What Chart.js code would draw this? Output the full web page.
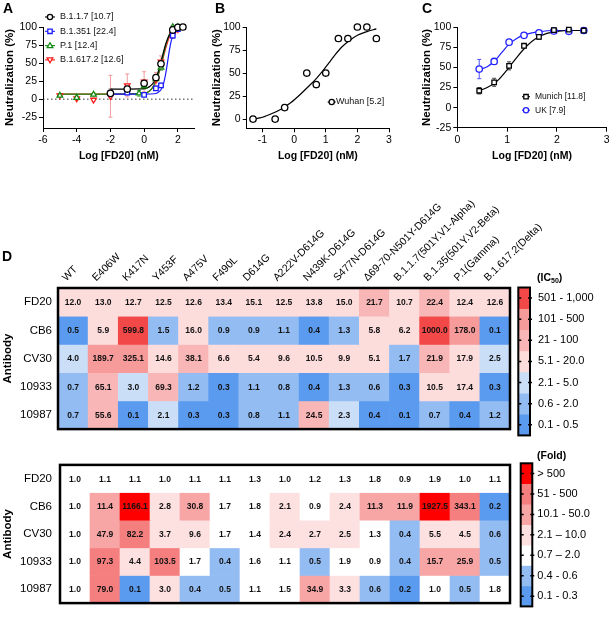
<!DOCTYPE html>
<html><head><meta charset="utf-8">
<script src="https://cdn.jsdelivr.net/npm/chart.js@4.4.0/dist/chart.umd.min.js"></script>
<style>
body{margin:0;background:#fff;}
#wrap{position:relative;width:612px;height:618px;overflow:hidden;background:#fff;font-family:"Liberation Sans",Arial,sans-serif;}
canvas{position:absolute;}
.lbl{position:absolute;font-weight:bold;color:#000;line-height:1;white-space:nowrap;}
.lbl sub{font-size:7px;vertical-align:-2px;}
</style></head><body>
<div id="wrap">
<canvas id="cA" width="200" height="162" style="left:0;top:0"></canvas>
<canvas id="cB" width="200" height="162" style="left:200px;top:0"></canvas>
<canvas id="cC" width="212" height="162" style="left:400px;top:0"></canvas>
<canvas id="cH1" width="612" height="292" style="left:0;top:150px"></canvas>
<canvas id="cH2" width="612" height="168" style="left:0;top:450px"></canvas>
<canvas id="cL1" width="102" height="180" style="left:510px;top:270px"></canvas>
<canvas id="cL2" width="102" height="168" style="left:510px;top:450px"></canvas>
<div class="lbl" style="left:3px;top:1px;font-size:14px">A</div>
<div class="lbl" style="left:215px;top:1px;font-size:14px">B</div>
<div class="lbl" style="left:422px;top:1px;font-size:14px">C</div>
<div class="lbl" style="left:2px;top:249px;font-size:14px">D</div>
<div class="lbl" style="left:537px;top:272px;font-size:10.5px">(IC<sub>50</sub>)</div>
<div class="lbl" style="left:537px;top:450px;font-size:10.5px">(Fold)</div>
</div>
<script>
// ---------------- Panel A data ----------------
const A_xTicks = [-6, -4, -2, 0, 2];
const A_yTicks = [-25, 0, 25, 50, 75, 100];
const a1_name = 'B.1.1.7 [10.7]';
const a1_x = [-2, -1, 0, 0.7, 1, 1.7, 2, 2.3];
const a1_y = [8, 14, 22, 30, 49, 96, 99.5, 100];
const a1_err = [6, 4, 4, 3, 4, 3, 1.5, 1];
const a1_fitX = [-2, -1, 0, 0.3, 0.5, 0.7, 0.9, 1.1, 1.3, 1.5, 1.7, 1.9, 2.3];
const a1_fitY = [14, 14, 14.5, 17, 21, 29, 43, 61, 78, 89, 95, 98.5, 100];
const a2_name = 'B.1.351 [22.4]';
const a2_x = [-2, -1, 0, 0.7, 1, 1.7, 2, 2.3];
const a2_y = [8, 9, 6, 15, 19, 88, 97, 100];
const a2_err = [3, 3, 2, 3, 3, 4, 2, 1];
const a2_fitX = [-2, 0, 0.6, 0.8, 1.0, 1.1, 1.2, 1.3, 1.4, 1.5, 1.6, 1.7, 1.8, 2.0, 2.3];
const a2_fitY = [7, 7, 7.5, 9, 13, 18, 26, 38, 53, 68, 80, 88, 93, 98, 100];
const a3_name = 'P.1 [12.4]';
const a3_x = [-5, -4, -3, -0.3, 0, 0.7, 1, 1.7, 2];
const a3_y = [5, 2, 6.5, 8, 18, 28, 44, 100, 100];
const a3_err = [2, 2, 2, 4, 4, 4, 4, 2, 1];
const a3_fitX = [-5, -2, 0, 0.3, 0.5, 0.7, 0.9, 1.1, 1.3, 1.5, 1.7, 2.0];
const a3_fitY = [7, 7, 8, 11, 16, 25, 39, 57, 76, 90, 97, 100];
const a4_name = 'B.1.617.2 [12.6]';
const a4_x = [-5, -4, -3, -2, -1, 0, 0.7, 1, 1.7, 2];
const a4_y = [5, 1, -1, 4, 19, 24, 27, 52, 90, 97];
const a4_err = [2, 2, 2, 29, 16, 14, 10, 8, 5, 2];
const a4_fitX = [-5, -2, 0, 0.3, 0.5, 0.7, 0.9, 1.1, 1.3, 1.5, 1.7, 1.9, 2.0];
const a4_fitY = [7, 7, 8, 11, 16, 25, 38, 55, 72, 86, 94, 98, 99];

// ---------------- Panel B data ----------------
const B_xTicks = [-1, 0, 1, 2, 3];
const B_yTicks = [0, 25, 50, 75, 100];
const b_name = 'Wuhan [5.2]';
const b_x = [-1.3, -0.6, -0.3, 0.4, 0.7, 1.0, 1.4, 1.7, 2.0, 2.3, 2.6];
const b_y = [0, 0, 12.5, 50, 37.5, 50, 87.5, 87.5, 100, 100, 87.5];
const b_fitX = [-1.3, -1.0, -0.7, -0.4, -0.1, 0.2, 0.5, 0.7, 0.9, 1.1, 1.3, 1.5, 1.7, 2.0, 2.3, 2.6];
const b_fitY = [0, 2, 6, 11, 18, 27, 37, 44, 52, 61, 70, 78, 84, 91, 95, 98];

// ---------------- Panel C data ----------------
const C_xTicks = [0, 1, 2, 3];
const C_yTicks = [-25, 0, 25, 50, 75, 100];
const c_x = [0.44, 0.74, 1.04, 1.34, 1.64, 1.94, 2.24, 2.54];
const c1_name = 'Munich [11.8]';
const c1_y = [21, 31.5, 52, 77, 88, 96.5, 97, 96];
const c1_err = [4, 5, 5, 2, 3, 1.5, 1.5, 1.5];
const c1_fitX = [0.44, 0.6, 0.8, 1.0, 1.2, 1.4, 1.6, 1.8, 2.0, 2.3, 2.54];
const c1_fitY = [21, 25, 33, 47, 63, 77, 87, 92.5, 95, 96, 96];
const c2_name = 'UK [7.9]';
const c2_y = [48, 57.5, 81.5, 90, 93, 95.5, 95, 96];
const c2_err = [12, 3, 1.5, 1.5, 1.5, 1, 1, 1.5];
const c2_fitX = [0.44, 0.6, 0.75, 0.9, 1.04, 1.2, 1.34, 1.5, 1.64, 1.94, 2.54];
const c2_fitY = [47, 51, 58, 69, 79, 86.5, 90.5, 93, 94.5, 96, 96];

// ---------------- Panel D data ----------------
const variants = ['WT', 'E406W', 'K417N', 'Y453F', 'A475V', 'F490L', 'D614G', 'A222V-D614G', 'N439K-D614G', 'S477N-D614G', 'Δ69-70-N501Y-D614G', 'B.1.1.7(501Y.V1-Alpha)', 'B.1.35(501Y.V2-Beta)', 'P.1(Gamma)', 'B.1.617.2(Delta)'];
const antibodies = ['FD20', 'CB6', 'CV30', '10933', '10987'];
const ic50_FD20 = [12.0, 13.0, 12.7, 12.5, 12.6, 13.4, 15.1, 12.5, 13.8, 15.0, 21.7, 10.7, 22.4, 12.4, 12.6];
const ic50_CB6 = [0.5, 5.9, 599.8, 1.5, 16.0, 0.9, 0.9, 1.1, 0.4, 1.3, 5.8, 6.2, 1000.0, 178.0, 0.1];
const ic50_CV30 = [4.0, 189.7, 325.1, 14.6, 38.1, 6.6, 5.4, 9.6, 10.5, 9.9, 5.1, 1.7, 21.9, 17.9, 2.5];
const ic50_10933 = [0.7, 65.1, 3.0, 69.3, 1.2, 0.3, 1.1, 0.8, 0.4, 1.3, 0.6, 0.3, 10.5, 17.4, 0.3];
const ic50_10987 = [0.7, 55.6, 0.1, 2.1, 0.3, 0.3, 0.8, 1.1, 24.5, 2.3, 0.4, 0.1, 0.7, 0.4, 1.2];
const fold_FD20 = [1.0, 1.1, 1.1, 1.0, 1.1, 1.1, 1.3, 1.0, 1.2, 1.3, 1.8, 0.9, 1.9, 1.0, 1.1];
const fold_CB6 = [1.0, 11.4, 1166.1, 2.8, 30.8, 1.7, 1.8, 2.1, 0.9, 2.4, 11.3, 11.9, 1927.5, 343.1, 0.2];
const fold_CV30 = [1.0, 47.9, 82.2, 3.7, 9.6, 1.7, 1.4, 2.4, 2.7, 2.5, 1.3, 0.4, 5.5, 4.5, 0.6];
const fold_10933 = [1.0, 97.3, 4.4, 103.5, 1.7, 0.4, 1.6, 1.1, 0.5, 1.9, 0.9, 0.4, 15.7, 25.9, 0.5];
const fold_10987 = [1.0, 79.0, 0.1, 3.0, 0.4, 0.5, 1.1, 1.5, 34.9, 3.3, 0.6, 0.2, 1.0, 0.5, 1.8];
const ic50Bins = ['501 - 1,000', '101 - 500', '21 - 100', '5.1 - 20.0', '2.1 - 5.0', '0.6 - 2.0', '0.1 - 0.5'];
const foldBins = ['> 500', '51 - 500', '10.1 - 50.0', '2.1 – 10.0', '0.7 – 2.0', '0.4 - 0.6', '0.1 - 0.3'];
const ic50Lower = [500.5, 100.5, 20.5, 5.05, 2.05, 0.55, 0];
const foldLower = [500.5, 50.5, 10.05, 2.05, 0.65, 0.35, 0];

// ---------------- styles ----------------
const ic50Colors = ['#f24848', '#f69a9a', '#f9b6b6', '#fddcdc', '#cadef8', '#93bcf3', '#5b9bef'];
const foldColors = ['#ff0000', '#f57f7f', '#f8a5a5', '#fde0e0', '#ffffff', '#93bcf3', '#5b9bef'];
const FONT = '"Liberation Sans", Arial, Helvetica, sans-serif';
Chart.defaults.font.family = FONT;
Chart.defaults.color = '#000';

function binColor(v, lower, colors) {
  for (let k = 0; k < lower.length; k++) if (v > lower[k]) return colors[k];
  return colors[colors.length - 1];
}
function pts(xs, ys) { return xs.map((x, i) => ({ x: x, y: ys[i] })); }

function drawMarker(ctx, style, x, y, r, color, rot) {
  ctx.save();
  ctx.strokeStyle = color; ctx.fillStyle = '#fff'; ctx.lineWidth = 1.3;
  ctx.beginPath();
  if (style === 'circle') ctx.arc(x, y, r, 0, Math.PI * 2);
  else if (style === 'rect') ctx.rect(x - r * 0.85, y - r * 0.85, r * 1.7, r * 1.7);
  else if (style === 'triangle') {
    const s = rot ? -1 : 1;
    ctx.moveTo(x, y - s * r * 1.1); ctx.lineTo(x + r * 1.1, y + s * r * 0.8); ctx.lineTo(x - r * 1.1, y + s * r * 0.8); ctx.closePath();
  }
  ctx.fill(); ctx.stroke(); ctx.restore();
}

const errorBars = {
  id: 'errorBars',
  beforeDatasetsDraw(chart) {
    const ctx = chart.ctx, xs = chart.scales.x, ys = chart.scales.y;
    chart.data.datasets.forEach(ds => {
      if (!ds.errors) return;
      ctx.save(); ctx.strokeStyle = ds.errorColor || ds.borderColor; ctx.lineWidth = 1;
      ds.data.forEach((p, j) => {
        const e = ds.errors[j]; if (!e) return;
        const px = xs.getPixelForValue(p.x);
        const t = ys.getPixelForValue(p.y + e), b = ys.getPixelForValue(p.y - e);
        ctx.beginPath();
        ctx.moveTo(px, t); ctx.lineTo(px, b);
        ctx.moveTo(px - 2, t); ctx.lineTo(px + 2, t);
        ctx.moveTo(px - 2, b); ctx.lineTo(px + 2, b);
        ctx.stroke();
      });
      ctx.restore();
    });
  }
};

function makeLegend(cfg) {
  return {
    id: 'inLegend',
    afterDraw(chart) {
      const ctx = chart.ctx;
      ctx.save();
      ctx.font = cfg.size + 'px ' + FONT;
      ctx.textBaseline = 'middle'; ctx.textAlign = 'left';
      cfg.items.forEach((it, k) => {
        const y = cfg.y + k * cfg.dy, x = cfg.x;
        ctx.strokeStyle = it.color; ctx.lineWidth = 1.1;
        ctx.beginPath(); ctx.moveTo(x - cfg.half, y); ctx.lineTo(x + cfg.half, y); ctx.stroke();
        drawMarker(ctx, it.style, x, y, 2.6, it.color, it.rot);
        ctx.fillStyle = '#111'; ctx.fillText(it.label, cfg.tx, y);
      });
      ctx.restore();
    }
  };
}

function pointSet(xs, ys, errs, color, style, rot, errColor) {
  return { data: pts(xs, ys), errors: errs, errorColor: errColor || color, showLine: false,
    pointStyle: style, pointRotation: rot || 0, pointRadius: 3.2, borderColor: color,
    backgroundColor: '#fff', borderWidth: 1.3, clip: false };
}
function fitSet(xs, ys, color) {
  return { data: pts(xs, ys), showLine: true, pointRadius: 0, borderColor: color, borderWidth: 1.2,
    cubicInterpolationMode: 'monotone', fill: false, clip: false };
}

function lineChart(id, cfg) {
  return new Chart(document.getElementById(id), {
    type: 'scatter',
    data: { datasets: cfg.datasets },
    options: {
      responsive: false, animation: false, devicePixelRatio: 1,
      layout: { padding: cfg.pad },
      plugins: { legend: { display: false }, tooltip: { enabled: false } },
      scales: {
        x: {
          type: 'linear', min: cfg.xMin, max: cfg.xMax,
          afterBuildTicks: s => { s.ticks = cfg.xTicks.map(v => ({ value: v })); },
          afterFit: s => { s.height = cfg.xH; },
          ticks: { color: '#000', font: { size: 10.5 }, padding: 2, maxRotation: 0, autoSkip: false, callback: v => String(v) },
          grid: { display: true, drawOnChartArea: false, drawTicks: true, tickLength: 4, color: '#000', lineWidth: 1 },
          border: { display: true, color: '#000', width: 1 },
          title: { display: true, text: 'Log [FD20] (nM)', font: { size: 10.5, weight: 'bold' }, color: '#000', padding: 0 }
        },
        y: {
          type: 'linear', min: cfg.yMin, max: cfg.yMax,
          afterBuildTicks: s => { s.ticks = cfg.yTicks.map(v => ({ value: v })); },
          afterFit: s => { s.width = cfg.yW; },
          ticks: { color: '#000', font: { size: 10.5 }, padding: 2, autoSkip: false, callback: v => String(v) },
          grid: { display: true, drawOnChartArea: false, drawTicks: true, tickLength: 4, color: '#000', lineWidth: 1 },
          border: { display: true, color: '#000', width: 1 },
          title: { display: true, text: 'Neutralization (%)', font: { size: 11.5, weight: 'bold' }, color: '#000', padding: 0 }
        }
      }
    },
    plugins: [errorBars, makeLegend(cfg.legend)]
  });
}

// Panel A
lineChart('cA', {
  pad: { left: 3, right: 4, top: 27, bottom: 0 }, xH: 34, yW: 40,
  xMin: -6, xMax: 3, yMin: -40, yMax: 100, xTicks: A_xTicks, yTicks: A_yTicks,
  datasets: [
    pointSet(a1_x, a1_y, a1_err, '#000', 'circle', 0, '#666'),
    pointSet(a2_x, a2_y, a2_err, '#1a1aff', 'rect', 0, '#7070ff'),
    pointSet(a3_x, a3_y, a3_err, '#138a13', 'triangle', 0, '#60b060'),
    pointSet(a4_x, a4_y, a4_err, '#ff1a1a', 'triangle', 180, '#f29a9a'),
    fitSet(a1_fitX, a1_fitY, '#000'),
    fitSet(a2_fitX, a2_fitY, '#1a1aff'),
    fitSet(a3_fitX, a3_fitY, '#138a13'),
    fitSet(a4_fitX, a4_fitY, '#ff1a1a'),
    { data: [{ x: -6, y: 0 }, { x: 3, y: 0 }], showLine: true, pointRadius: 0, borderColor: '#333', borderWidth: 1, borderDash: [1.5, 2.5] }
  ],
  legend: { x: 50, tx: 60, y: 17, dy: 14.3, half: 5, size: 9, items: [
    { label: a1_name, color: '#000', style: 'circle' },
    { label: a2_name, color: '#1a1aff', style: 'rect' },
    { label: a3_name, color: '#138a13', style: 'triangle' },
    { label: a4_name, color: '#ff1a1a', style: 'triangle', rot: true }
  ] }
});

// Panel B
lineChart('cB', {
  pad: { left: 10, right: 11, top: 27, bottom: 0 }, xH: 33.7, yW: 36.7,
  xMin: -1.5, xMax: 3, yMin: -10, yMax: 100, xTicks: B_xTicks, yTicks: B_yTicks,
  datasets: [
    pointSet(b_x, b_y, null, '#000', 'circle', 0),
    fitSet(b_fitX, b_fitY, '#000')
  ],
  legend: { x: 131.7, tx: 136, y: 102, dy: 14, half: 4, size: 9, items: [
    { label: b_name, color: '#000', style: 'circle' }
  ] }
});

// Panel C
lineChart('cC', {
  pad: { left: 20, right: 5.3, top: 27.3, bottom: 0 }, xH: 34.3, yW: 37.3,
  xMin: 0, xMax: 3, yMin: -25, yMax: 100, xTicks: C_xTicks, yTicks: C_yTicks,
  datasets: [
    pointSet(c_x, c1_y, c1_err, '#000', 'rect', 0, '#444'),
    pointSet(c_x, c2_y, c2_err, '#2020ff', 'circle', 0, '#5050ff'),
    fitSet(c1_fitX, c1_fitY, '#000'),
    fitSet(c2_fitX, c2_fitY, '#2020ff')
  ],
  legend: { x: 126, tx: 135, y: 96.7, dy: 13.5, half: 4, size: 8.5, items: [
    { label: c1_name, color: '#000', style: 'rect' },
    { label: c2_name, color: '#2020ff', style: 'circle' }
  ] }
});

// ---------------- heatmaps ----------------
const cellText = {
  id: 'cellText',
  afterDatasetsDraw(chart) {
    const ctx = chart.ctx; ctx.save();
    ctx.font = 'bold 8.5px ' + FONT;
    ctx.fillStyle = '#111'; ctx.textAlign = 'center'; ctx.textBaseline = 'middle';
    chart.data.datasets.forEach((ds, i) => {
      const meta = chart.getDatasetMeta(i);
      meta.data.forEach((el, j) => {
        const p = el.getProps(['x', 'y', 'base'], true);
        ctx.fillText(ds.values[j].toFixed(1), p.x, (p.y + p.base) / 2 + 0.5);
      });
    });
    ctx.restore();
  }
};
function boxBorder(w) {
  return { id: 'boxBorder', afterDraw(chart) {
    const a = chart.chartArea, ctx = chart.ctx;
    ctx.save(); ctx.lineWidth = w; ctx.strokeStyle = '#000';
    ctx.strokeRect(a.left, a.top, a.right - a.left, a.bottom - a.top);
    ctx.restore();
  } };
}

function heatmap(id, cfg) {
  const datasets = cfg.rows.map((vals, i) => ({
    label: antibodies[i], data: vals.map(() => 1), values: vals,
    backgroundColor: vals.map(v => binColor(v, cfg.lower, cfg.colors)),
    borderWidth: 0, barPercentage: 1, categoryPercentage: 1
  }));
  return new Chart(document.getElementById(id), {
    type: 'bar',
    data: { labels: variants, datasets: datasets },
    options: {
      responsive: false, animation: false, devicePixelRatio: 1,
      layout: { padding: cfg.pad },
      plugins: { legend: { display: false }, tooltip: { enabled: false } },
      scales: {
        x: {
          type: 'category', position: 'top', stacked: true, offset: true, display: cfg.showX,
          afterFit: s => { s.height = cfg.xH; },
          ticks: { minRotation: 45, maxRotation: 45, autoSkip: false, padding: 4, font: { size: 10.5 }, color: '#000' },
          grid: { display: false, drawTicks: false, tickLength: 0 },
          border: { display: false }
        },
        y: { type: 'linear', stacked: true, min: 0, max: antibodies.length, reverse: true, display: false },
        y2: {
          type: 'category', labels: antibodies, position: 'left', offset: true,
          afterFit: s => { s.width = cfg.yW; },
          ticks: { padding: cfg.yPad, font: { size: 11.5 }, color: '#000' },
          grid: { display: false, drawTicks: false, tickLength: 0 },
          border: { display: false },
          title: { display: true, text: 'Antibody', font: { size: 11.5, weight: 'bold' }, color: '#000', padding: 0 }
        }
      }
    },
    plugins: [cellText, boxBorder(2.5)]
  });
}

heatmap('cH1', {
  rows: [ic50_FD20, ic50_CB6, ic50_CV30, ic50_10933, ic50_10987],
  lower: ic50Lower, colors: ic50Colors,
  pad: { left: 1, right: 102, top: 0, bottom: 4 }, xH: 138, yW: 57, yPad: 6, showX: true
});
heatmap('cH2', {
  rows: [fold_FD20, fold_CB6, fold_CV30, fold_10933, fold_10987],
  lower: foldLower, colors: foldColors,
  pad: { left: 1, right: 102, top: 14, bottom: 4 }, xH: 0, yW: 59, yPad: 8, showX: false
});

// ---------------- colour-bar legends ----------------
const barTicks = {
  id: 'barTicks',
  afterDraw(chart) {
    const s = chart.scales.y2, a = chart.chartArea, ctx = chart.ctx;
    ctx.save(); ctx.strokeStyle = '#000'; ctx.lineWidth = 1.5;
    s.ticks.forEach((t, i) => {
      const y = s.getPixelForTick(i);
      ctx.beginPath();
      ctx.moveTo(a.left, y); ctx.lineTo(a.left + 3, y);
      ctx.moveTo(a.right - 2, y); ctx.lineTo(a.right + 2, y);
      ctx.stroke();
    });
    ctx.restore();
  }
};
function colorBar(id, cfg) {
  const datasets = cfg.labels.map((l, k) => ({ label: l, data: [1], backgroundColor: cfg.colors[k], borderWidth: 0, barPercentage: 1, categoryPercentage: 1 }));
  return new Chart(document.getElementById(id), {
    type: 'bar',
    data: { labels: [''], datasets: datasets },
    options: {
      responsive: false, animation: false, devicePixelRatio: 1,
      layout: { padding: cfg.pad },
      plugins: { legend: { display: false }, tooltip: { enabled: false } },
      scales: {
        x: { display: false, stacked: true },
        y: { type: 'linear', stacked: true, min: 0, max: cfg.labels.length, reverse: true, display: false },
        y2: {
          type: 'category', labels: cfg.labels, position: 'right', offset: true,
          afterFit: s => { s.width = cfg.yW; },
          ticks: { padding: cfg.tPad, font: { size: 11 }, color: '#000' },
          grid: { display: false, drawTicks: false, tickLength: 0 },
          border: { display: false }
        }
      }
    },
    plugins: [barTicks, boxBorder(2)]
  });
}
colorBar('cL1', { labels: ic50Bins, colors: ic50Colors, pad: { left: 8.3, right: 0, top: 17.5, bottom: 11 }, yW: 82, tPad: 8 });
colorBar('cL2', { labels: foldBins, colors: foldColors, pad: { left: 10.7, right: 0, top: 13.3, bottom: 4.7 }, yW: 79.7, tPad: 5 });
</script>
</body></html>
